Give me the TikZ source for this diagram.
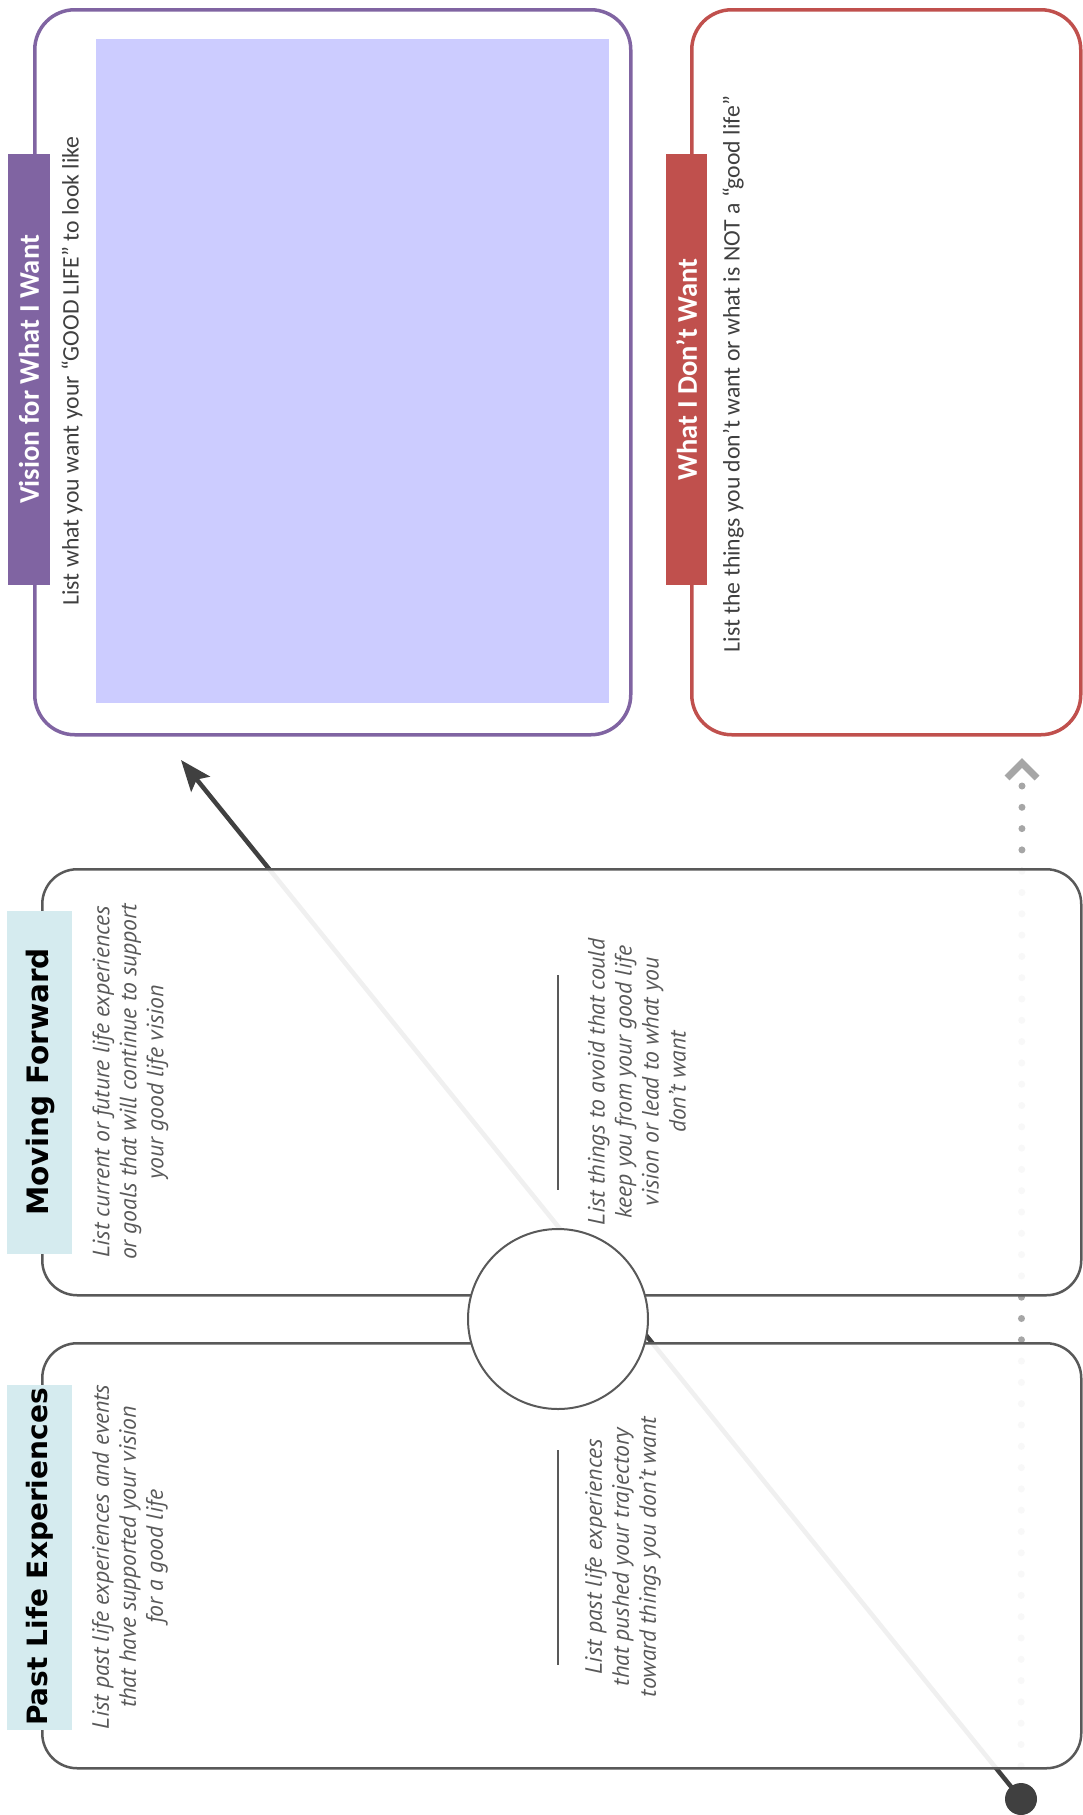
\documentclass[tikz,border=0pt]{standalone}
\usepackage{fontspec}
\usetikzlibrary{arrows.meta}
\newfontfamily\headfont{DejaVu Sans}
\newfontfamily\calfont{Carlito}
\newfontfamily\notefont{PT Sans}
\definecolor{visionpurple}{HTML}{8064A2}
\definecolor{dontred}{HTML}{C0504D}
\definecolor{lavender}{HTML}{CCCCFF}
\definecolor{tabcyan}{HTML}{D5EBEF}
\definecolor{boxgray}{HTML}{595959}
\definecolor{darkline}{HTML}{404040}
\definecolor{dotgray}{HTML}{A6A6A6}

\begin{document}
\begin{tikzpicture}[x=1pt,y=-1pt,
    big box/.style={draw,rounded corners=40pt,line width=3.5pt,fill=white,inner sep=0pt,anchor=north west},
    life box/.style={draw=boxgray,rounded corners=35pt,line width=2.5pt,fill=white,fill opacity=0.92,inner sep=0pt,anchor=north west},
    tab box/.style={inner sep=0pt,minimum height=431pt},
    tab title/.style={rotate=90,inner sep=0pt,text=white,font=\calfont\bfseries\fontsize{28.5}{30}\selectfont},
    head title/.style={rotate=90,inner sep=0pt,font=\headfont\bfseries\fontsize{28}{30}\selectfont},
    sub text/.style={rotate=90,inner sep=0pt,text=darkline,font=\calfont\fontsize{23.7}{26}\selectfont},
    note text/.style={rotate=90,inner sep=0pt,align=center,text=boxgray,font=\notefont\itshape\fontsize{23.6}{27}\selectfont},
    arrow line/.style={draw=darkline,line width=4.5pt,-{Stealth[length=31pt,width=24pt,inset=6pt]}},
    dot line/.style={draw=dotgray,line width=7pt,line cap=round,dash pattern=on 0pt off 21.3pt},
    rule/.style={draw=boxgray,line width=2pt}]

    \useasboundingbox (0,0) rectangle (1083,1815);

    % the path from past to vision
    \coordinate (tip) at (181,760);
    \coordinate (origin) at (1021,1799);
    \coordinate (chev) at (1022,763);
    \coordinate (dots) at (1022,786);
    \draw[arrow line] (origin) -- (tip);
    \draw[dot line] (dots) -- (origin);
    \draw[draw=dotgray,line width=7pt] (chev) ++(-15,15) -- ++(15,-15) -- ++(15,15);

    % boxes
    \node[big box,draw=visionpurple,minimum width=596pt,minimum height=725pt] (vision) at (33,8) {};
    \node[big box,draw=dontred,minimum width=389pt,minimum height=725pt] (dont) at (690,8) {};
    \node[life box,minimum width=1039pt,minimum height=426pt] (forward) at (41,868) {};
    \node[life box,minimum width=1039pt,minimum height=425pt] (past) at (41,1342) {};
    \node[fill=lavender,inner sep=0pt,anchor=north west,minimum width=513pt,minimum height=664pt] (space) at (96,39) {};

    % tabs
    \node[tab box,fill=visionpurple,minimum width=42pt] (vtab) at (29,369.5) {};
    \node[tab box,fill=dontred,minimum width=41pt] (dtab) at (686.5,369.5) {};
    \node[tab box,fill=tabcyan,minimum width=65pt,minimum height=343pt] (ftab) at (39.5,1082.5) {};
    \node[tab box,fill=tabcyan,minimum width=65pt,minimum height=345pt] (ptab) at (39.5,1557.5) {};

    \node[draw=boxgray,line width=2pt,fill=white,circle,minimum size=180pt] (now) at (558,1319) {};
    \node[fill=darkline,circle,inner sep=0pt,minimum size=32pt] (start) at (origin) {};

    % titles and prompts
    \node[tab title] (vtitle) at (vtab) {Vision for What I Want};
    \node[tab title] (dtitle) at (dtab) {What I Don’t Want};
    \node[sub text] (vsub) at (72,371) {List what you want your “GOOD LIFE” to look like};
    \node[sub text] (dsub) at (733,374) {List the things you don’t want or what is NOT a “good life”};

    \node[head title,font=\headfont\bfseries\fontsize{29.5}{31}\selectfont] (ftitle) at (40,1082) {Moving Forward};
    \node[head title] (ptitle) at (40,1557) {Past Life Experiences};

    \node[note text] (fgood) at (130.5,1082) {List current or future life experiences\\or goals that will continue to support\\your good life vision};
    \node[note text] (fbad) at (637,1082) {List things to avoid that could\\keep you from your good life\\vision or lead to what you\\don’t want};
    \node[note text] (pgood) at (130,1557) {List past life experiences and events\\that have supported your vision\\for a good life};
    \node[note text] (pbad) at (623,1557) {List past life experiences\\that pushed your trajectory\\toward things you don’t want};

    \coordinate (f1) at (558,975);
    \coordinate (f2) at (558,1190);
    \coordinate (p1) at (558,1450);
    \coordinate (p2) at (558,1665);
    \draw[rule] (f1) -- (f2);
    \draw[rule] (p1) -- (p2);

\end{tikzpicture}
\end{document}
